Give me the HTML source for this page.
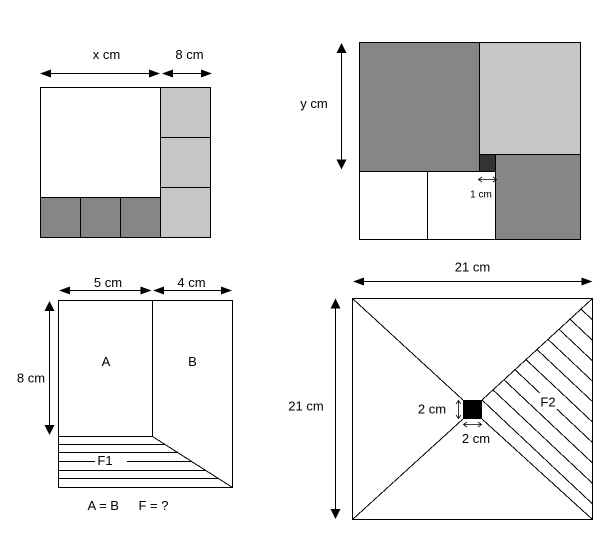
<!DOCTYPE html>
<html>
<head>
<meta charset="utf-8">
<style>
  html, body { margin: 0; padding: 0; background: #fff; }
  svg { display: block; }
  text { font-family: "Liberation Sans", Arial, sans-serif; font-size: 13px; fill: #000; }
</style>
</head>
<body>
<svg width="600" height="544" viewBox="0 0 600 544" xmlns="http://www.w3.org/2000/svg">
  <rect x="0" y="0" width="600" height="544" fill="#fff"/>

  <!-- ========== Figure 1 ========== -->
  <g shape-rendering="crispEdges">
    <rect x="160" y="87" width="50" height="150" fill="#c6c6c6"/>
    <rect x="40" y="197" width="120" height="40" fill="#868686"/>
    <g stroke="#000" stroke-width="1" fill="none">
      <rect x="40.5" y="87.5" width="170" height="150"/>
      <line x1="160.5" y1="87" x2="160.5" y2="237"/>
      <line x1="40" y1="197.5" x2="160" y2="197.5"/>
      <line x1="80.5" y1="197" x2="80.5" y2="237"/>
      <line x1="120.5" y1="197" x2="120.5" y2="237"/>
      <line x1="160" y1="137.5" x2="210" y2="137.5"/>
      <line x1="160" y1="187.5" x2="210" y2="187.5"/>
      <!-- arrows -->
      <line x1="45" y1="73.5" x2="155" y2="73.5"/>
      <line x1="167" y1="73.5" x2="207" y2="73.5"/>
    </g>
  </g>
  <g fill="#000">
    <polygon points="40,73.5 51,69.5 51,77.5"/>
    <polygon points="160,73.5 149,69.5 149,77.5"/>
    <polygon points="162,73.5 173,69.5 173,77.5"/>
    <polygon points="212,73.5 201,69.5 201,77.5"/>
  </g>
  <text x="106.5" y="59" text-anchor="middle">x cm</text>
  <text x="189.5" y="59" text-anchor="middle">8 cm</text>

  <!-- ========== Figure 2 ========== -->
  <g shape-rendering="crispEdges">
    <rect x="359" y="42" width="120" height="129" fill="#868686"/>
    <rect x="479" y="42" width="101" height="112" fill="#c6c6c6"/>
    <rect x="479" y="154" width="16" height="17" fill="#333333"/>
    <rect x="495" y="154" width="85" height="85" fill="#868686"/>
    <g stroke="#000" stroke-width="1" fill="none">
      <rect x="359.5" y="42.5" width="221" height="197"/>
      <line x1="479.5" y1="42" x2="479.5" y2="171"/>
      <line x1="479" y1="154.5" x2="580" y2="154.5"/>
      <line x1="495.5" y1="154" x2="495.5" y2="239"/>
      <line x1="359" y1="171.5" x2="495" y2="171.5"/>
      <line x1="427.5" y1="171" x2="427.5" y2="239"/>
      <line x1="341.5" y1="48" x2="341.5" y2="164"/>
    </g>
  </g>
  <g fill="#000">
    <polygon points="341.5,43 336.5,53 346.5,53"/>
    <polygon points="341.5,169.5 336.5,159.5 346.5,159.5"/>
  </g>
  <g stroke="#000" stroke-width="0.8" fill="none">
    <line x1="479" y1="179.5" x2="496" y2="179.5"/>
    <polyline points="482,177 478.5,179.5 482,182"/>
    <polyline points="493,177 496.5,179.5 493,182"/>
  </g>
  <text x="314" y="108" text-anchor="middle">y cm</text>
  <text x="481" y="197.5" text-anchor="middle" style="font-size:10px">1 cm</text>

  <!-- ========== Figure 3 ========== -->
  <g shape-rendering="crispEdges" stroke="#000" stroke-width="1" fill="none">
    <rect x="58.5" y="300.5" width="174" height="187"/>
    <line x1="152.5" y1="300" x2="152.5" y2="436.5"/>
    <line x1="58" y1="436.5" x2="152.5" y2="436.5"/>
    <line x1="152.5" y1="436.5" x2="232.5" y2="487.5"/>
    <line x1="58" y1="444.5" x2="165" y2="444.5"/>
    <line x1="58" y1="452.5" x2="177.6" y2="452.5"/>
    <line x1="58" y1="461.5" x2="95" y2="461.5"/>
    <line x1="127" y1="461.5" x2="191.7" y2="461.5"/>
    <line x1="58" y1="470.5" x2="205.8" y2="470.5"/>
    <line x1="58" y1="478.5" x2="218.4" y2="478.5"/>
    <!-- arrows -->
    <line x1="64" y1="290.5" x2="147" y2="290.5"/>
    <line x1="158" y1="290.5" x2="227" y2="290.5"/>
    <line x1="49.5" y1="306" x2="49.5" y2="430"/>
  </g>
  <g fill="#000">
    <polygon points="59,290.5 70,286.5 70,294.5"/>
    <polygon points="151.5,290.5 140.5,286.5 140.5,294.5"/>
    <polygon points="153,290.5 164,286.5 164,294.5"/>
    <polygon points="232,290.5 221,286.5 221,294.5"/>
    <polygon points="49.5,301 44.5,311 54.5,311"/>
    <polygon points="49.5,435 44.5,425 54.5,425"/>
  </g>
  <text x="108" y="287" text-anchor="middle">5 cm</text>
  <text x="191.5" y="287" text-anchor="middle">4 cm</text>
  <text x="31" y="382.5" text-anchor="middle">8 cm</text>
  <text x="106" y="366" text-anchor="middle">A</text>
  <text x="192.5" y="366" text-anchor="middle">B</text>
  <text x="105" y="465" text-anchor="middle">F1</text>
  <text x="87.5" y="510">A = B</text>
  <text x="138.5" y="510">F = ?</text>

  <!-- ========== Figure 4 ========== -->
  <g shape-rendering="crispEdges" stroke="#000" stroke-width="1" fill="none">
    <rect x="352.5" y="298.5" width="240" height="221"/>
    <line x1="352.5" y1="298.5" x2="463" y2="400"/>
    <line x1="592.5" y1="298.5" x2="482" y2="400"/>
    <line x1="352.5" y1="519.5" x2="463" y2="419"/>
    <line x1="592.5" y1="519.5" x2="482" y2="419"/>
    <!-- hatch lines: start on upper-right diagonal, end at right edge -->
    <line x1="482" y1="400" x2="592.5" y2="503.9"/>
    <line x1="493" y1="389.9" x2="592.5" y2="483.4"/>
    <line x1="504" y1="379.8" x2="592.5" y2="463.0"/>
    <line x1="515" y1="369.7" x2="592.5" y2="442.6"/>
    <line x1="526" y1="359.6" x2="592.5" y2="422.1"/>
    <line x1="537" y1="349.5" x2="592.5" y2="401.7"/>
    <line x1="548" y1="339.4" x2="592.5" y2="381.2"/>
    <line x1="559" y1="329.3" x2="592.5" y2="360.8"/>
    <line x1="570" y1="319.2" x2="592.5" y2="340.4"/>
    <line x1="581" y1="309.1" x2="592.5" y2="319.9"/>
    <!-- arrows -->
    <line x1="358" y1="281.5" x2="587" y2="281.5"/>
    <line x1="335.5" y1="304" x2="335.5" y2="514"/>
  </g>
  <!-- gap for F2 label -->
  <rect x="537" y="393" width="22" height="16" fill="#fff"/>
  <rect x="463" y="400" width="19" height="19" fill="#000"/>
  <g fill="#000">
    <polygon points="353,281.5 364,277.5 364,285.5"/>
    <polygon points="592.5,281.5 581.5,277.5 581.5,285.5"/>
    <polygon points="335.5,298.5 330.5,308.5 340.5,308.5"/>
    <polygon points="335.5,519 330.5,509 340.5,509"/>
  </g>
  <g stroke="#000" stroke-width="0.8" fill="none">
    <line x1="458.5" y1="401" x2="458.5" y2="418"/>
    <polyline points="456,404 458.5,400.5 461,404"/>
    <polyline points="456,415 458.5,418.5 461,415"/>
    <line x1="464" y1="424.5" x2="481" y2="424.5"/>
    <polyline points="467,422 463.5,424.5 467,427"/>
    <polyline points="478,422 481.5,424.5 478,427"/>
  </g>
  <text x="472.5" y="271.5" text-anchor="middle">21 cm</text>
  <text x="306" y="410.5" text-anchor="middle">21 cm</text>
  <text x="432" y="413.5" text-anchor="middle">2 cm</text>
  <text x="476" y="443" text-anchor="middle">2 cm</text>
  <text x="548" y="406.5" text-anchor="middle">F2</text>
</svg>
</body>
</html>
